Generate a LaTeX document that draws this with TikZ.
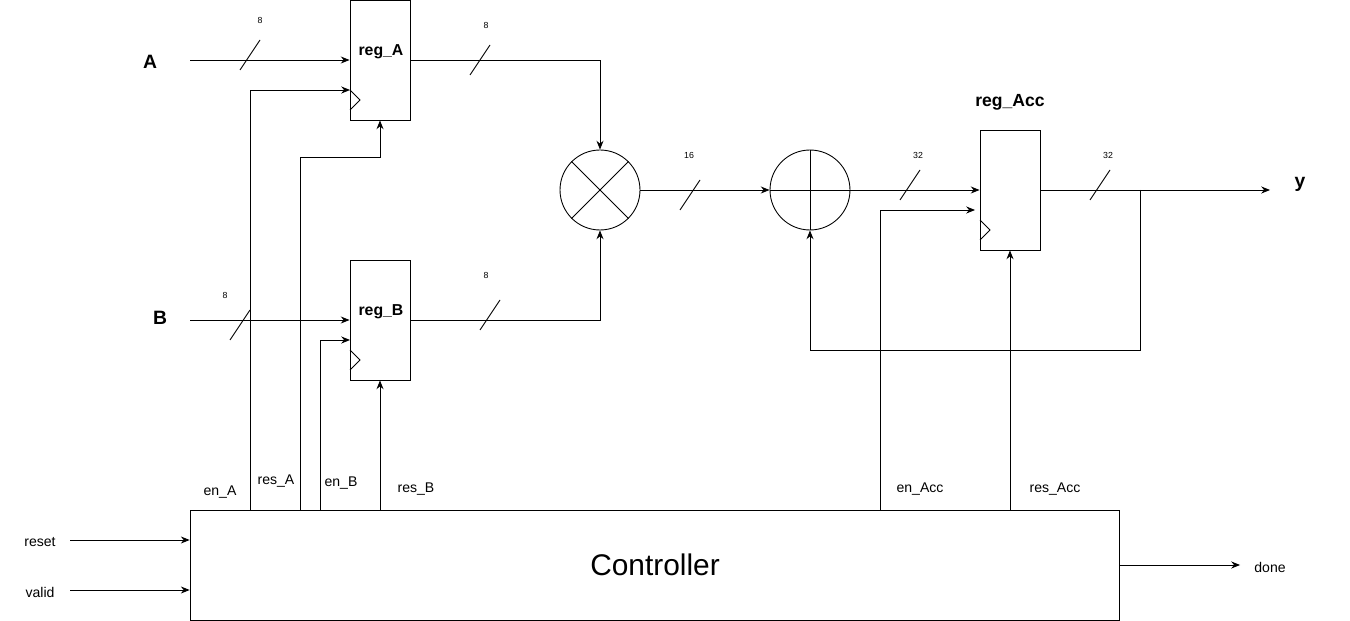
\documentclass[tikz,border=0pt]{standalone}
\usepackage{fontspec}
\setmainfont{Liberation Sans}
\usetikzlibrary{arrows.meta}

\tikzset{
	wire/.style={-{Stealth[length=5pt,width=4pt]}, line width=0.5pt},
	bus/.style={line width=0.5pt},
	reg/.style={draw, line width=0.5pt, minimum width=1.2cm, minimum height=2.4cm, inner sep=0pt},
	op/.style={draw, circle, line width=0.5pt, minimum size=1.6cm, inner sep=0pt},
	sig/.style={font=\fontsize{8}{9}\selectfont},
	width/.style={font=\fontsize{5}{6}\selectfont},
	port/.style={font=\fontsize{11}{12}\selectfont\bfseries},
}

\begin{document}
\begin{tikzpicture}[x=0.02cm, y=-0.02cm]
	
	\useasboundingbox (0,0) rectangle (1350,621);
	
	% registers
	\node[reg] (rA) at (380, 60) {};
	\node[reg] (rB) at (380, 320) {};
	\node[reg] (rAcc) at (1010, 190) {};
	\node[font=\fontsize{9}{10}\selectfont\bfseries] (lA) at (381, 52) {reg\_A};
	\node[font=\fontsize{9}{10}\selectfont\bfseries] (lB) at (381, 312) {reg\_B};
	\node[font=\fontsize{10}{11}\selectfont\bfseries] (lAcc) at (1010, 102) {reg\_Acc};
	\draw[line width=0.5pt] (350, 90) -- (360, 100) -- (350, 110);
	\draw[line width=0.5pt] (350, 350) -- (360, 360) -- (350, 370);
	\draw[line width=0.5pt] (980, 220) -- (990, 230) -- (980, 240);
	
	% operators
	\node[op] (mul) at (600, 190) {};
	\draw[line width=0.5pt] (mul.north west) -- (mul.south east) (mul.north east) -- (mul.south west);
	\node[op] (add) at (810, 190) {};
	\draw[line width=0.5pt] (add.north) -- (add.south) (add.west) -- (add.east);
	
	% controller
	\node[draw, line width=0.5pt, minimum width=18.6cm, minimum height=2.2cm, font=\fontsize{17}{18}\selectfont] (ctrl) at (655, 565) {Controller};
	
	% inputs
	\node[port] (A) at (150, 62) {A};
	\node[port] (B) at (160, 318) {B};
	\node[port] (y) at (1300, 184) {y};
	\coordinate (Ain) at (190, 60);
	\coordinate (Bin) at (190, 320);
	\draw[wire] (Ain) -- (rA.west |- Ain);
	\draw[wire] (Bin) -- (rB.west |- Bin);
	
	% datapath
	\draw[wire] (rA.east |- 0,60) -| (mul.north);
	\draw[wire] (rB.east |- 0,320) -| (mul.south);
	\draw[wire] (mul.east) -- (add.west);
	\draw[wire] (add.east) -- (rAcc.west |- add.east);
	\coordinate (yout) at (1270, 190);
	\draw[wire] (rAcc.east |- yout) -- (yout);
	\coordinate (fb) at (1140, 190);
	\draw[wire] (fb) -- (1140, 350) -| (add.south);
	
	% bus widths
	\foreach \x/\y/\w/\lx/\ly in {250/55/8/260/20, 240/325/8/225/295, 480/60/8/486/25, 490/315/8/486/275, 690/195/16/689/155, 910/185/32/918/155, 1100/185/32/1108/155}
		{\draw[bus] (\x-10, \y+15) -- (\x+10, \y-15);
		\node[width] at (\lx, \ly) {\w};}
	
	% control signals
	\draw[wire] (250, 510) -- (250, 90) -- (350, 90);
	\draw[wire] (300, 510) -- (300, 157) -| (rA.south);
	\draw[wire] (320, 510) -- (320, 340) -- (350, 340);
	\draw[wire] (380, 510) -- (rB.south);
	\draw[wire] (880, 510) -- (880, 210) -- (975, 210);
	\draw[wire] (1010, 510) -- (rAcc.south);
	\node[sig] (enA) at (220, 492) {en\_A};
	\node[sig] (resA) at (276, 481) {res\_A};
	\node[sig] (enB) at (341, 483) {en\_B};
	\node[sig] (resB) at (416, 489) {res\_B};
	\node[sig] (enAcc) at (920, 489) {en\_Acc};
	\node[sig] (resAcc) at (1055, 489) {res\_Acc};
	
	% controller ports
	\node[sig] (reset) at (40, 542) {reset};
	\node[sig] (valid) at (40, 592) {valid};
	\node[sig] (done) at (1270, 567) {done};
	\draw[wire] (70, 540) -- (ctrl.west |- 0,540);
	\draw[wire] (70, 590) -- (ctrl.west |- 0,590);
	\draw[wire] (ctrl.east |- 0,565) -- (1240, 565);
	
\end{tikzpicture}
\end{document}
